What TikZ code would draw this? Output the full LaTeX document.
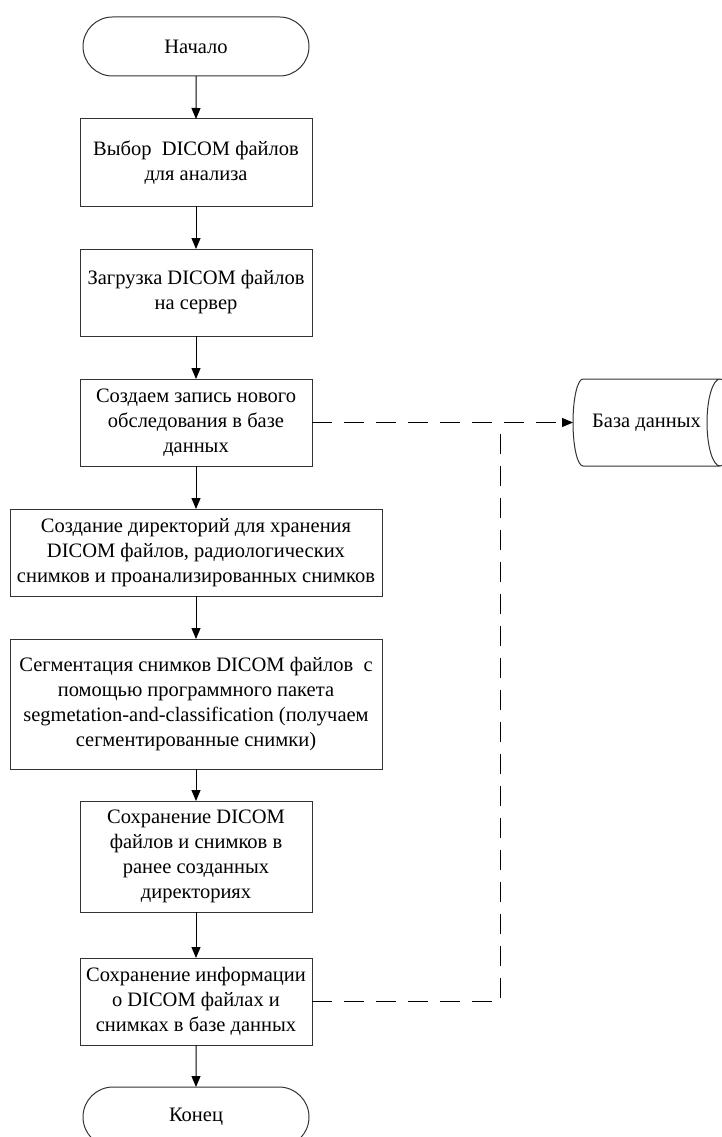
\documentclass[tikz,border=0pt]{standalone}
\usepackage{fontspec}
\setmainfont{Liberation Serif}
\usetikzlibrary{arrows.meta,positioning,shapes.misc}

\begin{document}
\begin{tikzpicture}[
  node distance=43pt,
  line width=1pt,
  blk/.style={draw=black!80,fill=white,font=\fontsize{20.5}{25}\selectfont,align=center,inner sep=3pt,outer sep=0pt,minimum width=232pt,minimum height=87pt},
  wide/.style={blk,minimum width=372pt},
  term/.style={blk,rounded rectangle,minimum height=59pt},
  dbase/.style={blk,draw=none,fill=none,minimum width=147pt,minimum height=87pt},
  arr/.style={-{Triangle[length=11pt,width=9pt]},black},
  dline/.style={black,dash pattern=on 20pt off 12pt}
]
\useasboundingbox (0,0) rectangle (721pt,-1137pt);
\node[term] (start) at (196pt,-46.5pt) {Начало};
\node[blk,below=of start] (sel) {Выбор\ \ DICOM файлов\\для анализа};
\node[blk,below=of sel] (upl) {Загрузка DICOM файлов\\на сервер};
\node[blk,below=of upl] (rec) {Создаем запись нового\\обследования в базе\\данных};
\node[wide,below=of rec] (dirs) {Создание директорий для хранения\\DICOM файлов, радиологических\\снимков и проанализированных снимков};
\node[wide,below=of dirs,minimum height=130pt] (seg) {Сегментация снимков DICOM файлов\ \ с\\помощью программного пакета\\segmetation-and-classification (получаем\\сегментированные снимки)};
\node[blk,below=32pt of seg,minimum height=111pt] (save) {Сохранение DICOM\\файлов и снимков в\\ранее созданных\\директориях};
\node[blk,below=46pt of save] (info) {Сохранение информации\\о DICOM файлах и\\снимках в базе данных};
\node[term,below=42pt of info,minimum height=60pt] (stop) {Конец};
\node[dbase,right=261pt of rec] (db) {База данных};
\draw[draw=black!80] (db.north east)
  arc[start angle=90,end angle=270,x radius=13pt,y radius=43.5pt]
  arc[start angle=-90,end angle=90,x radius=13pt,y radius=43.5pt]
  -- ([xshift=10pt]db.north west)
  arc[start angle=90,end angle=270,x radius=10pt,y radius=43.5pt]
  -- (db.south east);
\path (rec.east) ++(188pt,0) coordinate (jn);
\draw[arr] (start) -- (sel);
\draw[arr] (sel) -- (upl);
\draw[arr] (upl) -- (rec);
\draw[arr] (rec) -- (dirs);
\draw[arr] (dirs) -- (seg);
\draw[arr] (seg) -- (save);
\draw[arr] (save) -- (info);
\draw[arr] (info) -- (stop);
\draw[dline,arr] (rec.east) -- (db.west);
\draw[dline] (info.east) -| (jn);
\end{tikzpicture}
\end{document}
